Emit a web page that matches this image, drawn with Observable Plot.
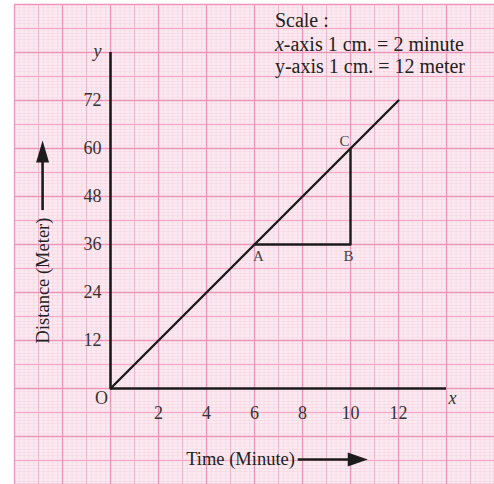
<!DOCTYPE html>
<html><head><meta charset="utf-8">
<script src="https://cdn.jsdelivr.net/npm/d3@7"></script>
<script src="https://cdn.jsdelivr.net/npm/@observablehq/plot@0.6"></script>
<style>html,body{margin:0;padding:0;background:#fff}</style>
</head><body><div id="chart"></div>
<script>
// ---- data ----
const lineTime = [0, 12];
const lineDistance = [0, 72];
const pointNames = ["A", "B", "C"];
const pointTime = [6, 10, 10];
const pointDistance = [36, 36, 60];
const xTickValues = [2, 4, 6, 8, 10, 12];
const yTickValues = [12, 24, 36, 48, 60, 72];
const scaleLines = ["Scale :", "x-axis 1 cm. = 2 minute", "y-axis 1 cm. = 12 meter"];
const scaleLineY = [92, 86, 80.6];
const xTitle = "Time (Minute)";
const yTitle = "Distance (Meter)";
const xAxisEnd = 14;
const yAxisEnd = 84;

// ---- tables ----
const lineData = lineTime.map((t, i) => ({t, d: lineDistance[i]}));
const points = pointNames.map((n, i) => ({n, t: pointTime[i], d: pointDistance[i]}));
const labelOffsets = {A: [4, 12], B: [-2, 12], C: [-6, -7]};

const xDomain = [-4, 16], yDomain = [-24, 96];
const fineX = d3.range(-4, 16.001, 0.2), fineY = d3.range(-24, 96.001, 0.8);
const midX = d3.range(-3, 16.001, 2), midY = d3.range(-18, 96.001, 12);
const majX = d3.range(-4, 16.001, 2), majY = d3.range(-24, 96.001, 12);

const ink = "#1c1c1c", textInk = "#333";
const upHead = {draw(ctx) { ctx.moveTo(0, 0); ctx.lineTo(-6.5, 22); ctx.lineTo(6.5, 22); ctx.closePath(); }};
const rightHead = {draw(ctx) { ctx.moveTo(0, 0); ctx.lineTo(-20, -7); ctx.lineTo(-20, 7); ctx.closePath(); }};

const chart = Plot.plot({
  width: 494, height: 484,
  marginTop: 4, marginRight: 0, marginBottom: 0, marginLeft: 14,
  x: {domain: xDomain, axis: null},
  y: {domain: yDomain, axis: null},
  style: {fontFamily: "'Liberation Serif', 'Times New Roman', serif", background: "#fff"},
  marks: [
    Plot.frame({fill: "#fcecf2", stroke: null}),
    Plot.ruleX(fineX, {stroke: "#f6d0df", strokeWidth: 0.6}),
    Plot.ruleY(fineY, {stroke: "#f6d0df", strokeWidth: 0.6}),
    Plot.ruleX(midX, {stroke: "#eeb6cb", strokeWidth: 1}),
    Plot.ruleY(midY, {stroke: "#f2a6c4", strokeWidth: 1.1}),
    Plot.ruleX(majX, {stroke: "#ef94b8", strokeWidth: 1.3}),
    Plot.ruleY(majY, {stroke: "#ef94b8", strokeWidth: 1.3}),
    // axes
    Plot.ruleX([0], {y1: 0, y2: yAxisEnd, stroke: ink, strokeWidth: 2.6}),
    Plot.ruleY([0], {x1: 0, x2: xAxisEnd, stroke: ink, strokeWidth: 2.6}),
    // main line and triangle
    Plot.line(lineData, {x: "t", y: "d", stroke: ink, strokeWidth: 2.4}),
    Plot.line(points, {x: "t", y: "d", stroke: ink, strokeWidth: 2.4}),
    ...points.map(p => Plot.text([p], {x: "t", y: "d", text: "n", dx: labelOffsets[p.n][0], dy: labelOffsets[p.n][1], fontSize: 15, fill: "#444"})),
    // tick labels
    Plot.text(xTickValues, {x: d => d, y: 0, dy: 25, text: d => String(d), fontSize: 18, fill: textInk}),
    Plot.text(yTickValues, {x: 0, y: d => d, dx: -9, text: d => String(d), textAnchor: "end", fontSize: 18, fill: textInk}),
    Plot.text(["O"], {x: 0, y: 0, dx: -9, dy: 10, text: d => d, fontSize: 18, fill: textInk}),
    Plot.text(["x"], {x: xAxisEnd, y: 0, dx: 6, dy: 10, text: d => d, fontSize: 18, fontStyle: "italic", fill: textInk}),
    Plot.text(["y"], {x: 0, y: yAxisEnd, dx: -13, dy: -1, text: d => d, fontSize: 18, fontStyle: "italic", fill: textInk}),
    // scale note
    Plot.text(scaleLines, {x: 6.85, y: (d, i) => scaleLineY[i], text: d => d, textAnchor: "start", fontSize: 20, fill: "#222"}),
    // axis titles with arrows
    Plot.text([yTitle], {x: -2.83, y: 27, text: d => d, rotate: -90, fontSize: 18.5, fill: "#222"}),
    Plot.link([0], {x1: -2.83, y1: 44.6, x2: -2.83, y2: 58, stroke: ink, strokeWidth: 2.6}),
    Plot.dot([0], {x: -2.83, y: 62, symbol: upHead, fill: ink, stroke: null}),
    Plot.text([xTitle], {x: 5.42, y: -17.6, text: d => d, fontSize: 18.5, fill: "#222"}),
    Plot.link([0], {x1: 7.8, y1: -17.75, x2: 10.1, y2: -17.75, stroke: ink, strokeWidth: 2.6}),
    Plot.dot([0], {x: 10.72, y: -17.75, symbol: rightHead, fill: ink, stroke: null})
  ]
});
d3.select(chart).selectAll("text").each(function() {
  if (this.textContent === scaleLines[1]) {
    const t = d3.select(this);
    const rest = this.textContent.slice(1);
    t.text(null);
    t.append("tspan").attr("font-style", "italic").text("x");
    t.append("tspan").text(rest);
  }
});
document.getElementById("chart").appendChild(chart);
</script>
</body></html>
